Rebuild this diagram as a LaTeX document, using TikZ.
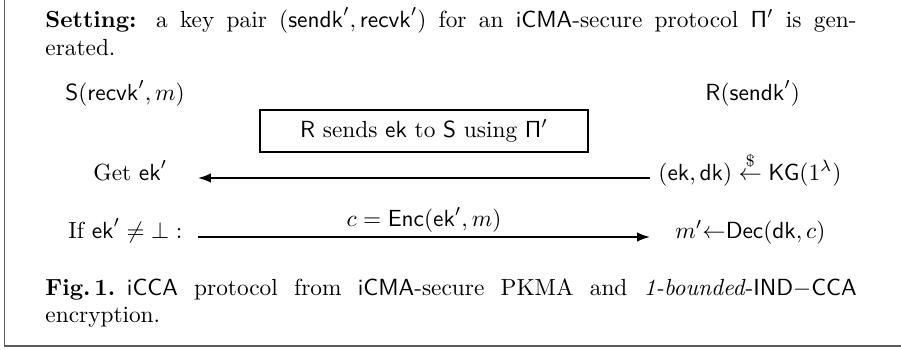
\documentclass[tikz,border=0pt]{standalone}
\usepackage{amsmath,amssymb}
\usetikzlibrary{arrows.meta}
\tikzset{
  txt/.style={anchor=base west,inner sep=0pt},
  msg/.style={line width=0.7pt,-{Latex[length=5.5pt,width=4pt]}},
  sendbox/.style={draw,line width=0.5pt,minimum width=140.7pt,minimum height=18pt,inner sep=0pt}
}
\begin{document}
\begin{tikzpicture}[x=0.429pt,y=-0.429pt]
	\useasboundingbox (0,0) rectangle (901,350);
	\draw[line width=0.6pt][black!65](4.5,0)--(4.5,346)--(901,346);

	\node[txt] (setting) at (45,27) {\makebox[348pt][s]{\textbf{Setting:} a key pair $(\mathsf{sendk}',\mathsf{recvk}')$ for an \textsf{iCMA}-secure protocol $\mathsf{\Pi}'$ is gen-}};
	\node[txt] (settingb) at (45,55) {erated.};

	\node[txt] (sender) at (65,100) {$\mathsf{S}(\mathsf{recvk}',m)$};
	\node[txt] (receiver) at (705,100) {$\mathsf{R}(\mathsf{sendk}')$};

	\node[sendbox] (using) at (424,131) {\textsf{R} sends $\mathsf{ek}$ to \textsf{S} using $\mathsf{\Pi}'$};

	\node[txt] (getek) at (93,180) {Get $\mathsf{ek}'$};
	\node[txt] (keygen) at (658,180) {$(\mathsf{ek},\mathsf{dk})\stackrel{\$}{\leftarrow}\mathsf{KG}(1^\lambda)$};
	\coordinate (r1) at (650,178);
	\coordinate (s1) at (198,178);
	\draw[msg](r1)--(s1);

	\node[txt] (check) at (68,238) {If $\mathsf{ek}'\neq\bot:$};
	\node[txt] (decrypt) at (675,238) {$m'{\leftarrow}\mathsf{Dec}(\mathsf{dk},c)$};
	\coordinate (s2) at (198,237);
	\coordinate (r2) at (650,237);
	\draw[msg](s2)--(r2) node[midway,above=1.5pt,inner sep=0pt] (cipher) {$c=\mathsf{Enc}(\mathsf{ek}',m)$};

	\node[txt] (caption) at (45,295) {\makebox[348pt][s]{\textbf{Fig.\,1.}\hskip .5em\textsf{iCCA} protocol from \textsf{iCMA}-secure PKMA and \textit{1-bounded}-\mbox{$\mathsf{IND}{-}\mathsf{CCA}$}}};
	\node[txt] (captionb) at (45,322) {encryption.};
\end{tikzpicture}
\end{document}
